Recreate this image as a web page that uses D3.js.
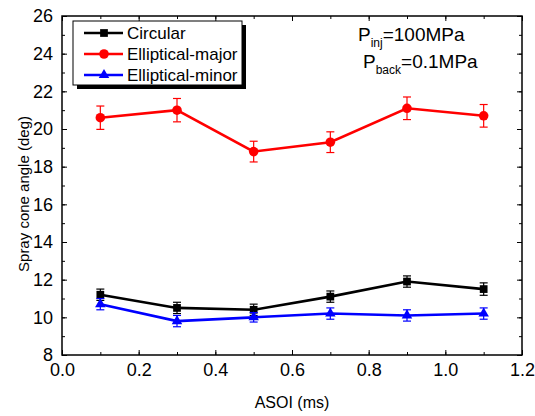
<!DOCTYPE html>
<html>
<head>
<meta charset="utf-8">
<script src="https://cdn.jsdelivr.net/npm/d3@7"></script>
<style>
  body { margin: 0; background: #fff; }
  svg text { font-family: Arial, "Liberation Sans", sans-serif; }
</style>
</head>
<body>
<div id="chart"></div>
<script>
// data
var asoi = [0.1, 0.3, 0.5, 0.7, 0.9, 1.1];
var circular = [11.2, 10.5, 10.4, 11.1, 11.9, 11.5];
var circularErr = [0.3, 0.3, 0.3, 0.3, 0.3, 0.33];
var ellMajor = [20.6, 21.0, 18.8, 19.3, 21.1, 20.7];
var ellMajorErr = [0.62, 0.62, 0.55, 0.55, 0.6, 0.6];
var ellMinor = [10.7, 9.8, 10.0, 10.2, 10.1, 10.2];
var ellMinorErr = [0.3, 0.3, 0.25, 0.3, 0.3, 0.3];
var seriesNames = ["Circular", "Elliptical-major", "Elliptical-minor"];
var xTicks = [0.0, 0.2, 0.4, 0.6, 0.8, 1.0, 1.2];
var yTicks = [8, 10, 12, 14, 16, 18, 20, 22, 24, 26];

var W = 535, H = 416;
var margin = {top: 16, right: 13, bottom: 61, left: 62};
var width = W - margin.left - margin.right;
var height = H - margin.top - margin.bottom;

var svg = d3.select("#chart").append("svg")
    .attr("width", W)
    .attr("height", H);

var g = svg.append("g")
    .attr("transform", "translate(" + margin.left + "," + margin.top + ")");

var x = d3.scaleLinear().domain([0, 1.2]).range([0, width]);
var y = d3.scaleLinear().domain([8, 26]).range([height, 0]);

/***** axes: inward ticks on all four sides ******/
var minorX = d3.range(0, 1.21, 0.1).map(function(d){ return +d.toFixed(2); });
var minorY = d3.range(8, 26.1, 1);

function drawTicks(axisFn, scale, vals, size, transform){
  var a = g.append("g")
    .attr("transform", transform)
    .call(axisFn(scale).tickValues(vals).tickSize(size).tickSizeOuter(0).tickFormat(""));
  a.select(".domain").remove();
  a.selectAll(".tick line").attr("stroke", "#000").attr("stroke-width", 1);
  return a;
}

// minor
drawTicks(d3.axisTop, x, minorX, 3, "translate(0," + height + ")");
drawTicks(d3.axisBottom, x, minorX, 3, "translate(0,0)");
drawTicks(d3.axisRight, y, minorY, 3, "translate(0,0)");
drawTicks(d3.axisLeft, y, minorY, 3, "translate(" + width + ",0)");
// major
drawTicks(d3.axisTop, x, xTicks, 5, "translate(0," + height + ")");
drawTicks(d3.axisBottom, x, xTicks, 5, "translate(0,0)");
drawTicks(d3.axisRight, y, yTicks, 5, "translate(0,0)");
drawTicks(d3.axisLeft, y, yTicks, 5, "translate(" + width + ",0)");

// labels
var xl = g.append("g")
  .attr("transform", "translate(0," + height + ")")
  .call(d3.axisBottom(x).tickValues(xTicks).tickSize(0).tickPadding(8)
        .tickFormat(d3.format(".1f")));
xl.select(".domain").remove();
xl.selectAll("text").style("font-size", "18px").attr("fill", "#000");

var yl = g.append("g")
  .call(d3.axisLeft(y).tickValues(yTicks).tickSize(0).tickPadding(9));
yl.select(".domain").remove();
yl.selectAll("text").style("font-size", "18px").attr("fill", "#000");

// frame
g.append("rect")
  .attr("width", width).attr("height", height)
  .attr("fill", "none").attr("stroke", "#000").attr("stroke-width", 1.5);

// axis titles
svg.append("text")
  .attr("x", margin.left + width / 2)
  .attr("y", 408)
  .attr("text-anchor", "middle")
  .style("font-size", "16px")
  .text("ASOI (ms)");

svg.append("text")
  .attr("transform", "translate(29,194) rotate(-90)")
  .attr("text-anchor", "middle")
  .style("font-size", "15px")
  .text("Spray cone angle (deg)");

/***** series ******/
var series = [
  {name: seriesNames[0], vals: circular, err: circularErr, color: "#000000", marker: d3.symbolSquare, size: 60},
  {name: seriesNames[1], vals: ellMajor, err: ellMajorErr, color: "#ff0000", marker: d3.symbolCircle, size: 72},
  {name: seriesNames[2], vals: ellMinor, err: ellMinorErr, color: "#0000ff", marker: d3.symbolTriangle, size: 48}
];

var line = d3.line()
  .x(function(d){ return x(d[0]); })
  .y(function(d){ return y(d[1]); });

series.forEach(function(s){
  var pts = asoi.map(function(a, i){ return [a, s.vals[i], s.err[i]]; });
  var sg = g.append("g");

  // error bars
  var eb = sg.selectAll(".err").data(pts).enter().append("g");
  eb.append("line")
    .attr("x1", function(d){ return x(d[0]); })
    .attr("x2", function(d){ return x(d[0]); })
    .attr("y1", function(d){ return y(d[1] - d[2]); })
    .attr("y2", function(d){ return y(d[1] + d[2]); })
    .attr("stroke", s.color).attr("stroke-width", 1.2);
  [-1, 1].forEach(function(sign){
    eb.append("line")
      .attr("x1", function(d){ return x(d[0]) - 4; })
      .attr("x2", function(d){ return x(d[0]) + 4; })
      .attr("y1", function(d){ return y(d[1] + sign * d[2]); })
      .attr("y2", function(d){ return y(d[1] + sign * d[2]); })
      .attr("stroke", s.color).attr("stroke-width", 1.2);
  });

  sg.append("path")
    .datum(pts)
    .attr("d", line)
    .attr("fill", "none")
    .attr("stroke", s.color)
    .attr("stroke-width", 2.6);

  sg.selectAll(".pt").data(pts).enter().append("path")
    .attr("transform", function(d){ return "translate(" + x(d[0]) + "," + y(d[1]) + ")"; })
    .attr("d", d3.symbol().type(s.marker).size(s.size))
    .attr("fill", s.color);
});

/***** legend ******/
var leg = svg.append("g").attr("transform", "translate(73,21)");
leg.append("rect")
  .attr("x", 4).attr("y", 4).attr("width", 169).attr("height", 64)
  .attr("fill", "#000");
leg.append("rect")
  .attr("width", 169).attr("height", 64)
  .attr("fill", "#fff").attr("stroke", "#000").attr("stroke-width", 1);

series.forEach(function(s, i){
  var ry = 12 + i * 21;
  leg.append("line")
    .attr("x1", 11).attr("x2", 50).attr("y1", ry).attr("y2", ry)
    .attr("stroke", s.color).attr("stroke-width", 2.6);
  leg.append("path")
    .attr("transform", "translate(31," + ry + ")")
    .attr("d", d3.symbol().type(s.marker).size(s.size))
    .attr("fill", s.color);
  leg.append("text")
    .attr("x", 54).attr("y", ry + 6)
    .style("font-size", "17px")
    .text(s.name);
});

/***** annotation ******/
var ann = svg.append("g");
var t1 = ann.append("text").attr("x", 358).attr("y", 41).style("font-size", "19px");
t1.append("tspan").text("P");
t1.append("tspan").attr("dy", 6).style("font-size", "12px").text("inj");
t1.append("tspan").attr("dy", -6).text("=100MPa");
var t2 = ann.append("text").attr("x", 363).attr("y", 68).style("font-size", "19px");
t2.append("tspan").text("P");
t2.append("tspan").attr("dy", 6).style("font-size", "12px").text("back");
t2.append("tspan").attr("dy", -6).text("=0.1MPa");
</script>
</body>
</html>
